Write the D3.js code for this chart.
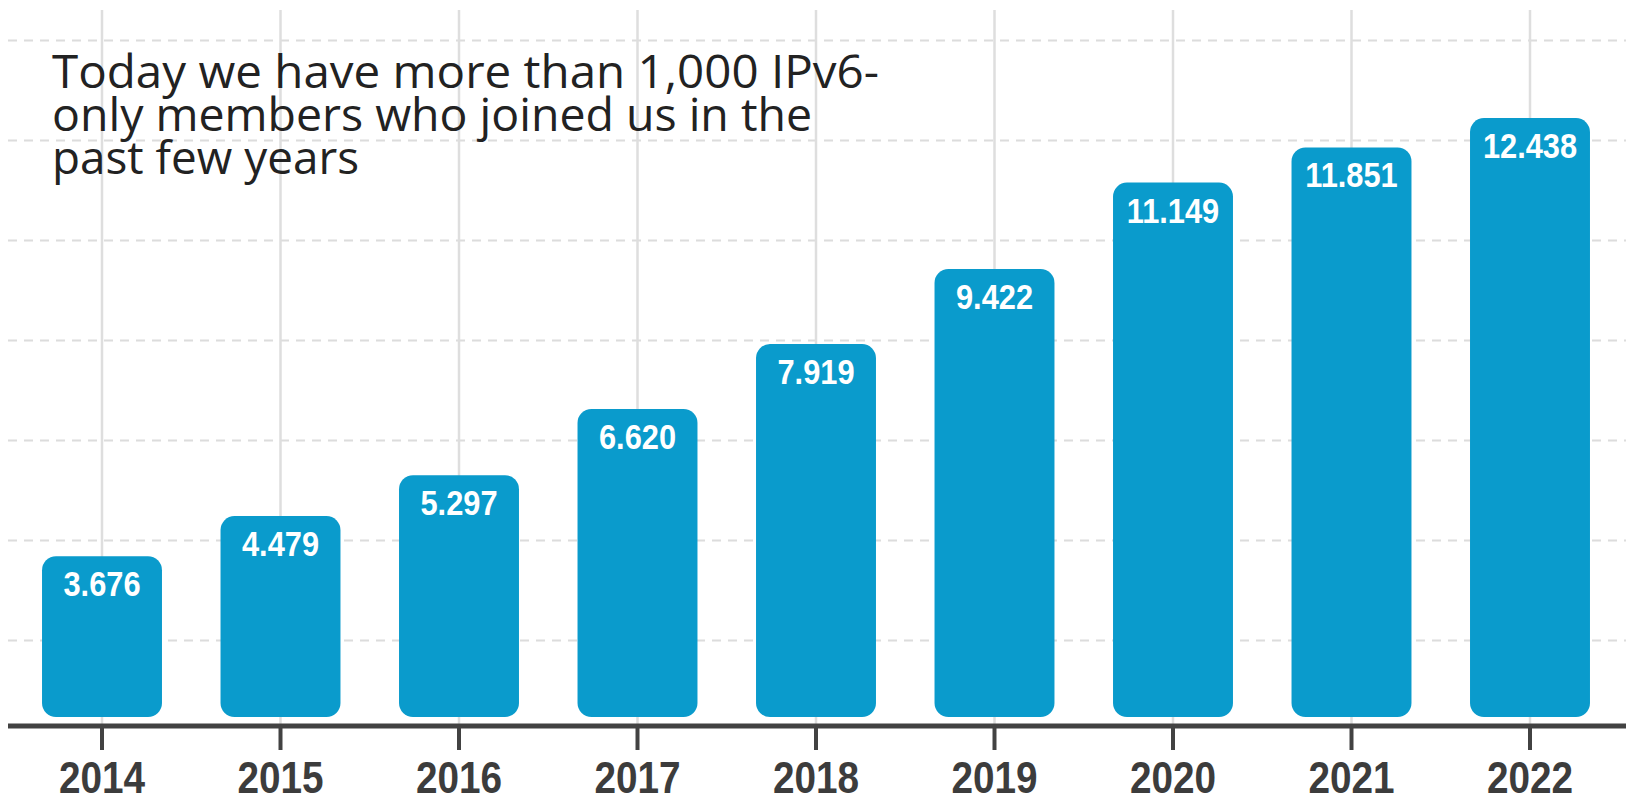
<!DOCTYPE html>
<html>
<head>
<meta charset="utf-8">
<script src="https://cdn.jsdelivr.net/npm/d3@7"></script>
<style>
    body { margin: 0; background: #fff; }
    svg { display: block; }
</style>
</head>
<body>
<div id="chartContainer"></div>
<script>
// chart data
const years = ["2014", "2015", "2016", "2017", "2018", "2019", "2020", "2021", "2022"];
const members = [3676, 4479, 5297, 6620, 7919, 9422, 11149, 11851, 12438];
const gridValues = [2000, 4000, 6000, 8000, 10000, 12000, 14000];
const noteLines = [
    "Today we have more than 1,000 IPv6-",
    "only members who joined us in the",
    "past few years"
];

const svgWidth = 1626;
const svgHeight = 797;
const axisY = 726;
const barBottom = 717;

const svg = d3.select("#chartContainer")
    .append("svg")
    .attr("width", svgWidth)
    .attr("height", svgHeight);

const xScale = d3.scaleBand()
    .domain(years)
    .range([12.75, 1619.25])
    .paddingInner(0.328)
    .paddingOuter(0.164);

const yScale = d3.scaleLinear()
    .domain([0, 14000])
    .range([740, 40]);

// dashed horizontal grid
const grid = svg.append("g")
    .attr("transform", "translate(8,0)")
    .call(d3.axisLeft(yScale).tickValues(gridValues).tickSize(-(svgWidth - 8)).tickFormat(""));
grid.select(".domain").remove();
grid.selectAll("line")
    .attr("stroke", "#dcdcdc")
    .attr("stroke-width", 2)
    .attr("stroke-dasharray", "9,7");

// vertical grid at each year
svg.append("g")
    .selectAll("line")
    .data(years)
    .enter()
    .append("line")
    .attr("x1", d => xScale(d) + xScale.bandwidth() / 2)
    .attr("x2", d => xScale(d) + xScale.bandwidth() / 2)
    .attr("y1", 10)
    .attr("y2", axisY)
    .attr("stroke", "#dedede")
    .attr("stroke-width", 2.5);

// note text
const note = svg.append("g");
const noteWidths = [827, 760, 307];
note.selectAll("text")
    .data(noteLines)
    .enter()
    .append("text")
    .attr("x", 52)
    .attr("y", (d, i) => 88 + i * 43)
    .attr("textLength", (d, i) => noteWidths[i])
    .attr("lengthAdjust", "spacingAndGlyphs")
    .attr("font-family", "'Open Sans', 'Noto Sans', sans-serif")
    .attr("font-size", 45)
    .attr("fill", "#222")
    .text(d => d);

// bars
const fmt = d3.formatLocale({ decimal: ",", thousands: ".", grouping: [3], currency: ["", ""] }).format(",");
const data = years.map((y, i) => ({ year: y, value: members[i] }));

const bars = svg.selectAll(".bar")
    .data(data)
    .enter()
    .append("g")
    .attr("class", "bar");

bars.append("rect")
    .attr("x", d => xScale(d.year))
    .attr("y", d => yScale(d.value))
    .attr("width", xScale.bandwidth())
    .attr("height", d => barBottom - yScale(d.value))
    .attr("rx", 14)
    .attr("fill", "#0a9bcc");

bars.append("text")
    .attr("transform", d => `translate(${xScale(d.year) + xScale.bandwidth() / 2},${yScale(d.value) + 40}) scale(0.88,1)`)
    .attr("text-anchor", "middle")
    .attr("font-family", "'Liberation Sans', Arial, sans-serif")
    .attr("font-weight", "bold")
    .attr("font-size", 35)
    .attr("fill", "#fff")
    .text(d => fmt(d.value));

// x axis
svg.append("line")
    .attr("x1", 8)
    .attr("x2", svgWidth)
    .attr("y1", axisY)
    .attr("y2", axisY)
    .attr("stroke", "#424242")
    .attr("stroke-width", 5);

const xAxis = svg.append("g")
    .attr("transform", `translate(0,${axisY})`)
    .call(d3.axisBottom(xScale).tickSize(24).tickSizeOuter(0));
xAxis.select(".domain").remove();
xAxis.selectAll(".tick line")
    .attr("stroke", "#424242")
    .attr("stroke-width", 4);
xAxis.selectAll(".tick text")
    .attr("y", 67)
    .attr("dy", null)
    .attr("transform", "scale(0.88,1)")
    .attr("font-family", "'Liberation Sans', Arial, sans-serif")
    .attr("font-weight", "bold")
    .attr("font-size", 44)
    .attr("fill", "#3c3c3c");
</script>
</body>
</html>
